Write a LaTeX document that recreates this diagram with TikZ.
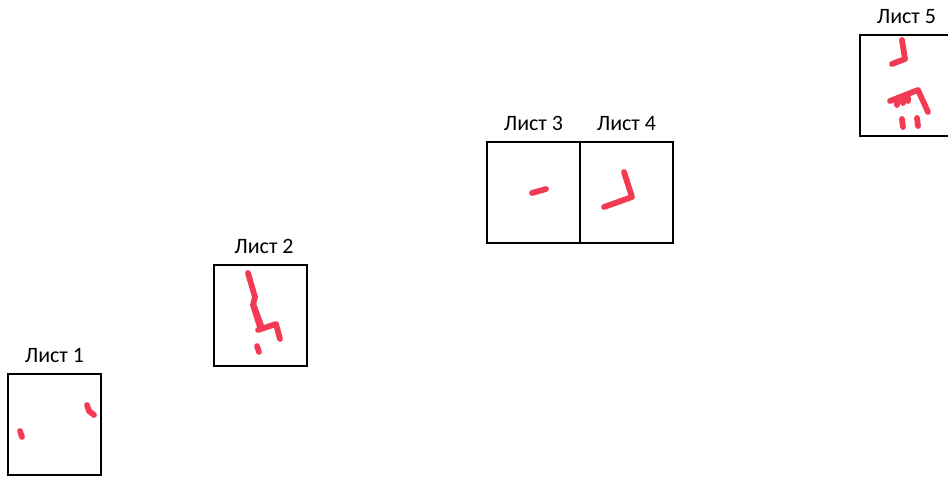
\documentclass[tikz,border=0pt]{standalone}
\usepackage{fontspec}
\setmainfont{Carlito}
\usetikzlibrary{positioning}
\definecolor{markred}{RGB}{242,58,84}
\tikzset{
  sheet/.style={draw=black, line width=1.2pt, inner sep=0pt, outer sep=0pt,
    minimum width=1.86cm, minimum height=2.02cm, anchor=north west},
  sheetname/.style={font=\fontsize{12.5}{14}\selectfont, inner sep=0pt},
  redmark/.style={draw=markred, line width=3.3pt, line cap=round, line join=round},
}

\begin{document}
\begin{tikzpicture}[x=0.02cm, y=-0.02cm]
    \useasboundingbox (0,0) rectangle (948,477);

    % Sheets
    \node[sheet] (sheet1) at (8,374) {};
    \node[sheet] (sheet2) at (214,265) {};
    \node[sheet] (sheet3) at (487,142) {};
    \node[sheet, anchor=west] (sheet4) at (sheet3.east) {};
    \node[sheet] (sheet5) at (860,35) {};

    % Sheet names
    \node[sheetname, above=6.5pt of sheet1] (name1) {Лист 1};
    \node[sheetname, above=6.5pt of sheet2, xshift=2pt] (name2) {Лист 2};
    \node[sheetname, above=6.5pt of sheet3] (name3) {Лист 3};
    \node[sheetname, above=6.5pt of sheet4] (name4) {Лист 4};
    \node[sheetname, above=6.5pt of sheet5] (name5) {Лист 5};

    % Red marks
    \draw[redmark] (20,431) -- (22,437);
    \draw[redmark] (87,405) -- (89,411) -- (94,415);

    \draw[redmark] (248,273) -- (255,297) -- (253,305) -- (260,327);
    \draw[redmark] (254,306) -- (262,328);
    \draw[redmark] (258,330) -- (276,324) -- (280,339);
    \draw[redmark] (257,346) -- (259,352);

    \draw[redmark] (532,193) -- (546,189);
    \draw[redmark] (624,172) -- (632,197) -- (604,207);

    \draw[redmark] (902,40) -- (905,59) -- (892,64);
    \draw[redmark] (890,101) -- (918,90) -- (928,112);
    \draw[redmark] (897,102) -- (897,105);
    \draw[redmark] (903,100) -- (903,103);
    \draw[redmark] (908,98) -- (908,101);
    \draw[redmark] (902,119) -- (903,127);
    \draw[redmark] (917,118) -- (918,126);
\end{tikzpicture}
\end{document}
